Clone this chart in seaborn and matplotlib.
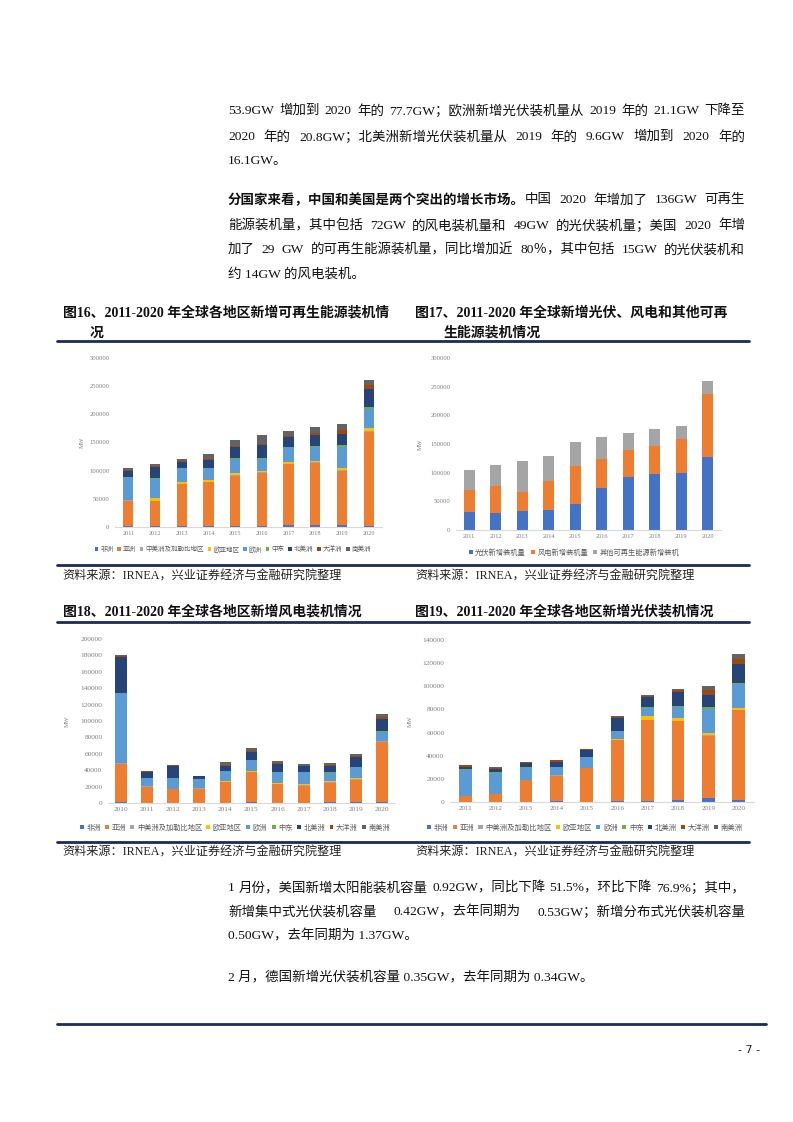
import matplotlib
matplotlib.use("Agg")
import numpy as np
import pandas as pd
import matplotlib.pyplot as plt
from matplotlib.patches import Patch
from matplotlib.ticker import FuncFormatter
import seaborn as sns

W, H = 793, 1122

# ---------------- data (MW) ----------------
years_re = ["2011", "2012", "2013", "2014", "2015", "2016", "2017", "2018", "2019", "2020"]
years_wind = ["2010", "2011", "2012", "2013", "2014", "2015", "2016", "2017", "2018", "2019", "2020"]
years_pv = ["2011", "2012", "2013", "2014", "2015", "2016", "2017", "2018", "2019", "2020"]

regions = ["非洲", "亚洲", "中美洲及加勒比地区", "欧亚地区", "欧洲", "中东", "北美洲", "大洋洲", "南美洲"]
region_colors = ["#4472C4", "#ED7D31", "#A5A5A5", "#FFC000", "#5B9BD5",
                 "#70AD47", "#264478", "#9E480E", "#636363"]

# fig 16: new renewable capacity by region
re_africa = [1000, 1000, 2000, 2000, 2000, 2500, 3500, 3000, 4000, 2500]
re_asia = [45700, 45200, 73700, 77300, 89100, 92800, 107700, 110000, 96000, 166700]
re_centam = [500, 500, 1000, 1000, 1500, 1500, 1500, 1500, 1500, 1500]
re_eurasia = [1500, 5000, 2500, 2500, 3500, 2500, 3500, 3000, 2500, 5000]
re_europe = [39500, 34200, 25500, 21300, 25200, 22200, 25200, 24500, 38000, 34300]
re_mideast = [500, 500, 500, 1000, 1000, 1000, 1000, 1200, 3000, 2400]
re_namerica = [10600, 19500, 9600, 13200, 19700, 22600, 16800, 20700, 20700, 32000]
re_oceania = [1500, 2000, 1800, 1800, 2400, 1800, 2000, 2400, 5900, 7100]
re_samerica = [4500, 4500, 4700, 9500, 10000, 15800, 8600, 10600, 10600, 10000]

# fig 17: pv / wind / other
mix_labels = ["光伏新增装机量", "风电新增装机量", "其他可再生能源新增装机"]
mix_colors = ["#4472C4", "#ED7D31", "#A5A5A5"]
mix_pv = [32000, 29700, 33700, 35500, 45900, 73800, 92400, 97100, 100000, 126700]
mix_wind = [38300, 46500, 33200, 49400, 66300, 50000, 47700, 48800, 58700, 111100]
mix_other = [34400, 36600, 54000, 44200, 41900, 38400, 29100, 30300, 23300, 22700]

# fig 18: new wind capacity by region
wind_africa = [1000, 300, 300, 300, 500, 800, 500, 300, 800, 800, 800]
wind_asia = [46200, 19800, 16700, 17100, 25100, 36500, 22200, 20800, 24100, 27700, 74000]
wind_centam = [1000, 300, 300, 300, 500, 1000, 500, 500, 800, 1200, 500]
wind_eurasia = [500, 200, 200, 200, 800, 1000, 1600, 1400, 800, 800, 500]
wind_europe = [85300, 9900, 12600, 11400, 11800, 13200, 13100, 14900, 10600, 13400, 11000]
wind_mideast = [500, 300, 300, 200, 600, 500, 500, 500, 500, 500, 400]
wind_namerica = [43100, 7500, 15200, 3100, 5900, 9700, 9300, 6400, 7600, 11800, 15400]
wind_oceania = [2000, 800, 500, 300, 1200, 800, 800, 800, 800, 1600, 2500]
wind_samerica = [1200, 400, 700, 500, 3700, 3700, 2400, 2100, 3300, 1700, 3600]

# fig 19: new pv capacity by region
pv_africa = [300, 200, 300, 1000, 300, 1000, 1000, 1500, 3500, 2000]
pv_asia = [4600, 6500, 18800, 21800, 28900, 52400, 70000, 68600, 53900, 77700]
pv_centam = [200, 200, 200, 200, 200, 200, 200, 200, 200, 200]
pv_eurasia = [100, 100, 100, 200, 200, 800, 3300, 2000, 1800, 1400]
pv_europe = [22800, 18400, 10300, 6800, 9000, 6700, 6800, 9500, 21100, 20800]
pv_mideast = [100, 100, 200, 300, 300, 500, 600, 1200, 2000, 900]
pv_namerica = [2400, 2700, 4100, 4600, 6100, 11000, 8600, 11800, 9600, 16100]
pv_oceania = [1200, 1500, 500, 1100, 400, 900, 1100, 1700, 4600, 4400]
pv_samerica = [300, 600, 400, 600, 400, 1100, 1200, 1500, 3800, 4300]

df_re = pd.DataFrame(dict(zip(regions, [re_africa, re_asia, re_centam, re_eurasia, re_europe,
                                        re_mideast, re_namerica, re_oceania, re_samerica])), index=years_re)
df_mix = pd.DataFrame(dict(zip(mix_labels, [mix_pv, mix_wind, mix_other])), index=years_re)
df_wind = pd.DataFrame(dict(zip(regions, [wind_africa, wind_asia, wind_centam, wind_eurasia, wind_europe,
                                          wind_mideast, wind_namerica, wind_oceania, wind_samerica])), index=years_wind)
df_pv = pd.DataFrame(dict(zip(regions, [pv_africa, pv_asia, pv_centam, pv_eurasia, pv_europe,
                                        pv_mideast, pv_namerica, pv_oceania, pv_samerica])), index=years_pv)

# ---------------- style ----------------
sns.set_style("white")
plt.rcParams['font.family'] = ['Liberation Serif', 'Noto Sans CJK SC', 'DejaVu Sans']
plt.rcParams['axes.unicode_minus'] = False

fig = plt.figure(figsize=(W / 100, H / 100), dpi=100)
fig.patch.set_facecolor("white")
renderer = fig.canvas.get_renderer()

NAVY = "#1c2a5e"
GRAY_TXT = "#7f7f7f"


def rect(x0, y0, x1, y1):
    return [x0 / W, 1 - y1 / H, (x1 - x0) / W, (y1 - y0) / H]


def hline(y, x0=57, x1=749, lw=2.0):
    fig.add_artist(plt.Line2D([x0 / W, x1 / W], [1 - y / H, 1 - y / H], color=NAVY, lw=lw))


def put(x, y, s, size=9.7, weight="normal", color="#111111", **kw):
    return fig.text(x / W, 1 - y / H, s, fontsize=size, fontweight=weight, color=color,
                    va="center", ha="left", **kw)


def justify_line(x0, x1, y, s, size=9.7, weight="normal"):
    # spread the space-separated chunks over the full column width
    parts = s.split(" ")
    texts = [put(x0, y, p, size=size, weight=weight) for p in parts]
    if len(parts) == 1:
        return
    widths = [t.get_window_extent(renderer).width for t in texts]
    gap = (x1 - x0 - sum(widths)) / (len(parts) - 1)
    x = x0
    for t, w in zip(texts, widths):
        t.set_x(x / W)
        x += w + gap


def stacked(box, df, colors, ymax, step, width, tick_y, tick_x, leg_xy, leg_fs, mw_x, colsp=0.7):
    x0, y0, x1, y1 = box
    ax = fig.add_axes(rect(x0, y0, x1, y1))
    cum = df.cumsum(axis=1)
    # draw cumulative totals from the top series down so each layer overlays the last
    for col, c in zip(reversed(list(df.columns)), reversed(colors)):
        sns.barplot(x=list(df.index), y=cum[col].values, color=c, saturation=1,
                    width=width, errorbar=None, linewidth=0, ax=ax)
    ax.set_ylim(0, ymax)
    ax.set_xlim(-0.5, len(df) - 0.5)
    ax.set_yticks(np.arange(0, ymax + 1, step))
    ax.yaxis.set_major_formatter(FuncFormatter(lambda v, p: f"{int(v)}"))
    ax.tick_params(axis="y", length=0, labelsize=tick_y, labelcolor=GRAY_TXT, pad=4)
    ax.tick_params(axis="x", length=0, labelsize=tick_x, labelcolor=GRAY_TXT, pad=3)
    for s in ["top", "right", "left"]:
        ax.spines[s].set_visible(False)
    ax.spines["bottom"].set_color("#d9d9d9")
    ax.spines["bottom"].set_linewidth(0.8)
    ax.set_xlabel("")
    ax.set_ylabel("MW", fontsize=4.5, color=GRAY_TXT)
    ax.yaxis.set_label_coords(-(x0 - mw_x) / (x1 - x0), 0.5)
    ax.grid(False)
    handles = [Patch(facecolor=c, edgecolor="none") for c in colors]
    fig.legend(handles, list(df.columns), loc="center", ncol=len(colors), frameon=False,
               bbox_to_anchor=(leg_xy[0] / W, 1 - leg_xy[1] / H), fontsize=leg_fs,
               handlelength=0.55, handleheight=0.55, handletextpad=0.35, columnspacing=colsp,
               labelcolor="#595959", borderpad=0)
    return ax


# ---------------- body text ----------------
L, R = 228, 745
justify_line(L, R, 111, "53.9GW 增加到 2020 年的 77.7GW；欧洲新增光伏装机量从 2019 年的 21.1GW 下降至")
justify_line(L, R, 137, "2020 年的 20.8GW；北美洲新增光伏装机量从 2019 年的 9.6GW 增加到 2020 年的")
put(L, 161, "16.1GW。")

bold = put(L, 200, "分国家来看，中国和美国是两个突出的增长市场。", weight="bold")
bw = bold.get_window_extent(renderer).width
justify_line(L + bw, R, 200, "中国 2020 年增加了 136GW 可再生")
justify_line(L, R, 226, "能源装机量，其中包括 72GW 的风电装机量和 49GW 的光伏装机量；美国 2020 年增")
justify_line(L, R, 250, "加了 29 GW 的可再生能源装机量，同比增加近 80％，其中包括 15GW 的光伏装机和")
put(L, 274, "约 14GW 的风电装机。")

# ---------------- captions, rules, sources ----------------
put(63, 313, "图16、2011-2020 年全球各地区新增可再生能源装机情", size=10, weight="bold")
put(90, 333, "况", size=10, weight="bold")
put(415, 313, "图17、2011-2020 年全球新增光伏、风电和其他可再", size=10, weight="bold")
put(444, 333, "生能源装机情况", size=10, weight="bold")
hline(341)

hline(565)
put(62, 577, "资料来源：IRNEA，兴业证券经济与金融研究院整理", size=8.7, color="#222222")
put(415, 577, "资料来源：IRNEA，兴业证券经济与金融研究院整理", size=8.7, color="#222222")

put(63, 612, "图18、2011-2020 年全球各地区新增风电装机情况", size=10, weight="bold")
put(415, 612, "图19、2011-2020 年全球各地区新增光伏装机情况", size=10, weight="bold")
hline(622)

hline(842)
put(62, 853, "资料来源：IRNEA，兴业证券经济与金融研究院整理", size=8.7, color="#222222")
put(415, 853, "资料来源：IRNEA，兴业证券经济与金融研究院整理", size=8.7, color="#222222")

justify_line(L, R, 888, "1 月份，美国新增太阳能装机容量 0.92GW，同比下降 51.5%，环比下降 76.9%；其中，")
justify_line(L, R, 912, "新增集中式光伏装机容量 0.42GW，去年同期为 0.53GW；新增分布式光伏装机容量")
put(L, 936, "0.50GW，去年同期为 1.37GW。")
put(L, 978, "2 月，德国新增光伏装机容量 0.35GW，去年同期为 0.34GW。")

hline(1024, 57, 766)
fig.text(760 / W, 1 - 1050 / H, "- 7 -", fontsize=8, ha="right", va="center",
         family="DejaVu Sans", color="#222222")

# ---------------- charts ----------------
stacked((115, 358, 382, 527), df_re, region_colors, 300000, 50000, 0.38,
        4.8, 4.4, (233, 549), 4.7, 85, colsp=0.55)
stacked((456, 358, 721, 530), df_mix, mix_colors, 300000, 50000, 0.42,
        4.8, 4.6, (574, 552), 5.2, 423)
stacked((108, 639, 395, 803), df_wind, region_colors, 200000, 20000, 0.45,
        5.3, 5.3, (235, 827), 5.2, 70, colsp=0.6)
stacked((450, 640, 754, 802), df_pv, region_colors, 140000, 20000, 0.42,
        5.3, 5.0, (585, 827), 5.3, 413, colsp=0.6)

fig.savefig("out.png", dpi=100, facecolor="white")
